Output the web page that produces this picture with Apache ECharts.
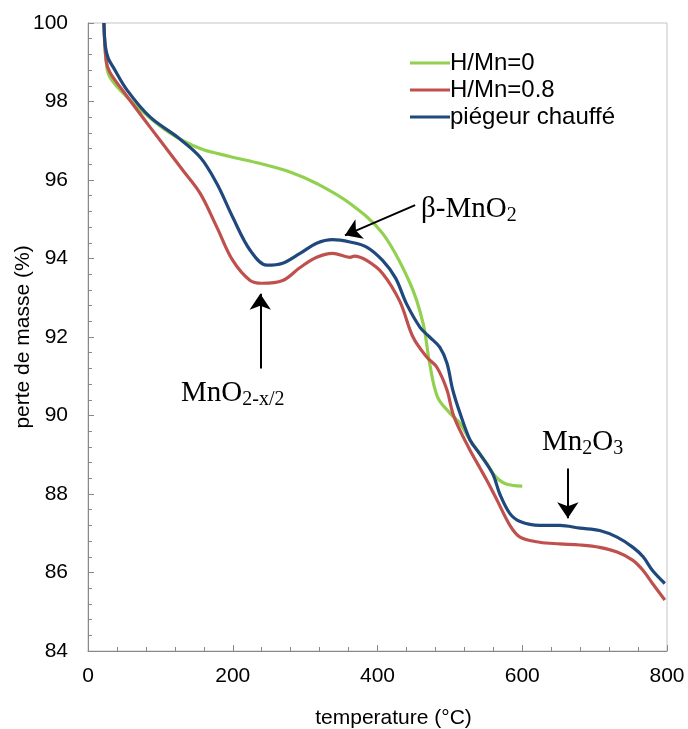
<!DOCTYPE html>
<html><head><meta charset="utf-8">
<script src="https://cdn.jsdelivr.net/npm/echarts@6/dist/echarts.min.js"></script>
<style>html,body{margin:0;padding:0;background:#fff}#c{width:688px;height:729px}</style>
</head><body><div id="c"></div>
<script>
const seriesNames = ['H/Mn=0', 'H/Mn=0.8', 'piégeur chauffé'];
const xTicks = [0, 200, 400, 600, 800];
const yTicks = [84, 86, 88, 90, 92, 94, 96, 98, 100];

const green = [[22,100],[25,99.05],[29,98.67],[44,98.3],[72,97.8],[113,97.2],[155,96.8],[196,96.6],[238,96.42],[280,96.2],[316,95.91],[362,95.4],[407,94.64],[445,93.37],[463,92.35],[472,91.33],[483,90.47],[500,90.06],[514,89.8],[528,89.37],[551,88.78],[562,88.47],[576,88.27],[600,88.2]];
const red = [[22,100],[25,99.05],[30,98.75],[48,98.28],[86,97.34],[131,96.25],[155,95.66],[178,94.8],[200,93.95],[224,93.44],[240,93.37],[269,93.44],[293,93.77],[316,94.03],[338,94.13],[362,94.03],[368,94.06],[385,93.95],[407,93.62],[431,92.9],[449,92.0],[468,91.49],[482,91.23],[496,90.65],[504,90.06],[514,89.62],[528,89.11],[541,88.68],[551,88.35],[565,87.85],[583,87.2],[597,86.9],[624,86.77],[652,86.73],[680,86.7],[707,86.64],[731,86.52],[753,86.31],[767,86.05],[780,85.72],[797,85.3]];
const blue = [[22,100],[24,99.4],[28,99.1],[35,98.87],[54,98.29],[86,97.6],[123,97.1],[155,96.58],[178,95.91],[200,95.05],[224,94.21],[247,93.83],[269,93.88],[293,94.13],[316,94.39],[338,94.48],[362,94.42],[385,94.29],[407,93.95],[425,93.5],[440,92.85],[459,92.24],[472,92.0],[486,91.74],[496,91.33],[504,90.65],[514,90.06],[528,89.37],[541,89.03],[559,88.52],[569,88.0],[583,87.5],[597,87.3],[624,87.2],[652,87.2],[680,87.13],[707,87.07],[731,86.9],[753,86.64],[767,86.4],[780,86.05],[797,85.72]];

const arrows = [
  [[452,95.36],[355,94.59]],
  [[238,91.2],[238,93.1]],
  [[663,88.65],[663,87.38]]
];

const chart = echarts.init(document.getElementById('c'));
const font = 'Liberation Sans, Arial, sans-serif';
const serif = 'Liberation Serif, Times New Roman, serif';
const colors = ['#92d050', '#c0504d', '#1f497d'];
const datas = [green, red, blue];

const series = datas.map((d, i) => ({
  name: seriesNames[i], type: 'line', data: d, showSymbol: false, smooth: 0.35,
  lineStyle: {width: 3.2, color: colors[i]}, itemStyle: {color: colors[i]}, z: 3 + i
}));
series.push({
  type: 'line', data: [], silent: true,
  markLine: {
    silent: true, symbol: ['none', 'arrow'], symbolSize: [16, 16],
    lineStyle: {color: '#000', width: 2, type: 'solid'}, label: {show: false},
    data: arrows.map(a => [{coord: a[0]}, {coord: a[1]}])
  }
});

const rich = {
  a: {fontFamily: serif, fontSize: 29, fill: '#000'},
  s: {fontFamily: serif, fontSize: 20, fill: '#000', padding: [12,0,0,0]}
};

chart.setOption({
  animation: false,
  backgroundColor: '#fff',
  grid: {left: 88, right: 21, top: 23, bottom: 78, show: true, borderColor: '#c4c4c4', borderWidth: 1,
         containLabel: false, outerBoundsMode: 'none'},
  legend: {
    data: seriesNames, orient: 'vertical', left: 405, top: 46, icon: 'rect',
    itemWidth: 40, itemHeight: 3, itemGap: 3,
    textStyle: {fontFamily: font, fontSize: 24, color: '#000', padding: [0,0,0,-5]}
  },
  xAxis: {
    type: 'value', min: 0, max: 800, interval: 200,
    name: 'temperature (°C)', nameLocation: 'middle', nameGap: 57, nameMoveOverlap: false,
    nameTextStyle: {fontFamily: font, fontSize: 21, color: '#000', padding: [0,0,0,32]},
    axisLine: {lineStyle: {color: '#888', width: 1}},
    axisTick: {inside: true, length: 6, lineStyle: {color: '#888'}},
    minorTick: {show: true, splitNumber: 5, length: 4, lineStyle: {color: '#888'}},
    axisLabel: {fontFamily: font, fontSize: 21, color: '#000', margin: 15, formatter: v => xTicks.includes(v) ? String(v) : ''},
    splitLine: {show: false}
  },
  yAxis: {
    type: 'value', min: 84, max: 100, interval: 2,
    name: 'perte de masse (%)', nameLocation: 'middle', nameGap: 54, nameMoveOverlap: false,
    nameTextStyle: {fontFamily: font, fontSize: 21, color: '#000'},
    axisLine: {show: true, lineStyle: {color: '#888', width: 1}},
    axisTick: {show: true, inside: true, length: 6, lineStyle: {color: '#888'}},
    minorTick: {show: true, splitNumber: 5, length: 4, lineStyle: {color: '#888'}},
    axisLabel: {fontFamily: font, fontSize: 21, color: '#000', margin: 20, formatter: v => yTicks.includes(v) ? String(v) : ''},
    splitLine: {show: false}
  },
  series: series,
  graphic: [
    {type: 'text', left: 421, top: 195, style: {text: '{a|β-MnO}{s|2}', rich: rich}},
    {type: 'text', left: 181, top: 379, style: {text: '{a|MnO}{s|2-x/2}', rich: rich}},
    {type: 'text', left: 542, top: 428, style: {text: '{a|Mn}{s|2}{a|O}{s|3}', rich: rich}}
  ]
});
</script></body></html>
